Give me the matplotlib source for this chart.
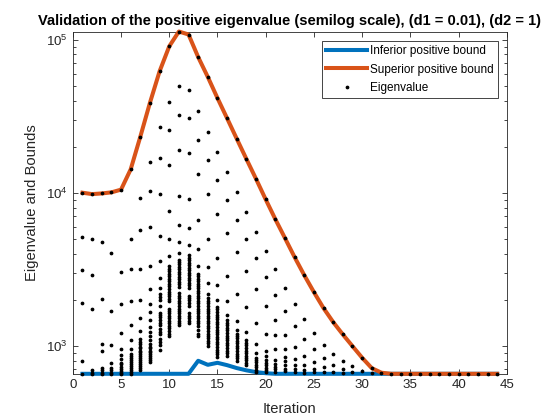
import numpy as np
import matplotlib
matplotlib.use("Agg")
import matplotlib.pyplot as plt
from matplotlib.ticker import MultipleLocator, NullFormatter, LogLocator

plt.rcParams['font.family'] = ['Liberation Sans', 'DejaVu Sans']
plt.rcParams['mathtext.default'] = 'regular'

# datos
iterations = np.arange(1, 45)

upper_bound = [10000, 9790, 9890, 10050, 10470, 14200, 23200, 38700, 62100, 90400,
               113000, 108000, 76900, 57000, 41500, 30600, 22500, 16600, 12300, 9040,
               6710, 5050, 3790, 2890, 2240, 1760, 1427, 1185, 994, 835,
               714, 667] + [656] * 12

lower_bound = [656] * 12 + [798, 751, 774, 747, 715, 691, 673, 662] + [656] * 24

eigenvalues = [
    [10000, 5120, 3120, 1900, 800, 656],
    [9790, 5010, 2920, 1750, 690, 667, 656],
    [9890, 4780, 2020, 1030, 931, 715, 690, 667, 656],
    [10050, 4010, 1680, 1015, 774, 715, 690, 667, 656],
    [10470, 3040, 1870, 1220, 950, 868, 815, 774, 755, 729, 708, 688, 667, 656],
    [14200, 4950, 3180, 1970, 1360, 1095, 950, 886, 855, 830, 802, 778, 755, 733,
     711, 690, 669, 656],
    [23200, 9230, 5730, 3150, 2000, 1520, 1245, 1100, 1051, 1020, 989, 960, 931,
     904, 877, 851, 826, 802, 778, 755, 733, 711, 690],
    [38500, 15780, 10240, 5960, 3300, 2340, 1862, 1660, 1464, 1330, 1230, 1150,
     1083, 1030, 989, 960, 931, 904, 877, 851, 826, 802, 778],
    [62100, 26700, 16900, 9850, 5180, 3560, 2770, 2380, 2180, 2080, 1977, 1830,
     1640, 1595, 1545, 1480, 1410, 1357, 1290, 1230, 1200, 1110, 1055, 1005, 945],
    [90400, 39300, 25500, 15100, 7630, 5010, 3850, 3300, 3180, 3060, 2950, 2840,
     2730, 2630, 2530, 2440, 2350, 2260, 2180, 2100, 2020, 1950, 1750, 1690, 1625,
     1565, 1510, 1450, 1400, 1350, 1300, 1250, 1200, 1160],
    [113000, 50100, 32200, 19100, 9500, 6150, 4750, 4030, 3660, 3540, 3400, 3280,
     3160, 3040, 2930, 2820, 2710, 2610, 2520, 2420, 2200, 2110, 2040, 1960, 1890,
     1820, 1750, 1690, 1630, 1565, 1510, 1450, 1400, 1360],
    [108000, 47100, 30600, 18100, 9080, 5870, 4570, 3890, 3760, 3610, 3480, 3350,
     3230, 3110, 2990, 2880, 2780, 2670, 2570, 2480, 2390, 2130, 2050, 1977, 1900,
     1830, 1625, 1565, 1510, 1450, 1400],
    [76900, 34000, 22100, 13180, 6590, 4300, 3340, 2960, 2860, 2750, 2650, 2550,
     2460, 2370, 2280, 2200, 2110, 2040, 1960, 1890, 1820, 1750, 1690, 1630, 1565,
     1510, 1450, 1400, 1337, 1259, 1200, 1150],
    [57000, 25000, 16300, 9790, 4950, 3270, 2580, 2180, 2040, 1960, 1890, 1820,
     1750, 1690, 1630, 1565, 1510, 1450, 1400, 1350, 1300, 1250, 1200, 1160, 1116,
     1075, 1035, 995],
    [41500, 18400, 12030, 7250, 3740, 2480, 2000, 1790, 1730, 1665, 1600, 1545,
     1485, 1430, 1380, 1325, 1275, 1230, 1185, 1140, 1100, 1060, 1020, 980, 945,
     910, 880, 845],
    [30600, 13580, 8910, 5440, 2840, 1950, 1580, 1464, 1415, 1357, 1310, 1259,
     1212, 1165, 1125, 1083, 1045, 1005, 968, 931, 897, 863],
    [22500, 10040, 6590, 4070, 2170, 1450, 1259, 1200, 1160, 1116, 1075, 1035, 995,
     960, 925, 890, 860, 826, 795],
    [16600, 7430, 4950, 3090, 1780, 1230, 1083, 1045, 1005, 968, 931, 897, 863,
     832, 802, 772, 745],
    [12300, 5560, 3720, 2360, 1400, 1020, 900, 838, 807, 778, 750, 722, 695, 669],
    [9040, 4170, 2810, 1820, 1200, 931, 863, 802, 772, 745, 716, 690, 669],
    [6710, 3170, 2150, 1464, 1170, 946, 802, 763, 730, 700, 670],
    [5050, 2400, 1695, 1173, 956, 842, 790, 745, 710, 680],
    [3790, 1870, 1340, 989, 822, 750, 707, 673],
    [2890, 1490, 1100, 863, 745, 690, 667],
    [2240, 1216, 956, 780, 707, 669],
    [1760, 1015, 830, 725, 669],
    [1427, 887, 752, 678],
    [1185, 800, 700, 665],
    [994, 733, 675],
    [835, 680],
    [714, 665],
    [667],
] + [[656]] * 12

x_eig = np.concatenate([[k] * len(v) for k, v in zip(iterations, eigenvalues)])
y_eig = np.concatenate(eigenvalues)

blue = '#0072BD'
orange = '#D95319'
gray = '#262626'

fig = plt.figure(figsize=(5.6, 4.2), dpi=100)
ax = fig.add_axes([0.13, 0.11, 0.775, 0.815])

ax.plot(iterations, lower_bound, color=blue, lw=2.9, label='Inferior positive bound',
        clip_on=False, zorder=3)
ax.plot(iterations, upper_bound, color=orange, lw=2.9, label='Superior positive bound',
        clip_on=False, zorder=4)
ax.plot(x_eig, y_eig, '.', color='k', ms=3.4, label='Eigenvalue', clip_on=False, zorder=5)

ax.set_yscale('log')
ax.set_xlim(0, 45)
ax.set_ylim(min(y_eig.min(), min(lower_bound)), max(upper_bound))
ax.xaxis.set_major_locator(MultipleLocator(5))
ax.yaxis.set_major_locator(LogLocator(base=10))
ax.yaxis.set_minor_locator(LogLocator(base=10, subs=np.arange(2, 10)))
ax.yaxis.set_minor_formatter(NullFormatter())

ax.tick_params(which='both', direction='in', top=True, right=True, colors=gray,
               labelsize=9.6, width=0.6)
ax.tick_params(which='major', length=3.8)
ax.tick_params(which='minor', length=2.0)
for s in ax.spines.values():
    s.set_color(gray)
    s.set_linewidth(0.6)

ax.set_title('Validation of the positive eigenvalue (semilog scale), (d1 = 0.01), (d2 = 1)',
             fontsize=10.5, fontweight='bold', color='k', pad=5)
ax.set_xlabel('Iteration', fontsize=10.6, color=gray, labelpad=8)
ax.set_ylabel('Eigenvalue and Bounds', fontsize=10.6, color=gray, labelpad=5)

leg = ax.legend(loc='upper right', bbox_to_anchor=(498 / 560, 1 - 41 / 420),
                bbox_transform=fig.transFigure, borderaxespad=0, fontsize=8.5,
                fancybox=False, framealpha=1, edgecolor=gray, handlelength=3.5,
                handletextpad=0.25, borderpad=0.35, labelspacing=0.55)
leg.get_frame().set_linewidth(0.6)

fig.savefig('out.png', dpi=100)
